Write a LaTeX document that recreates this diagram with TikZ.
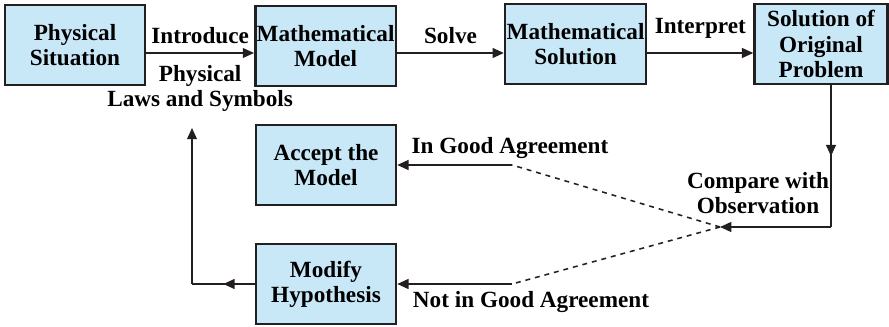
\documentclass[tikz,border=0pt]{standalone}
\usepackage{fontspec}
\setmainfont{Liberation Serif}[BoldFont={Liberation Serif Bold}]
\usepackage{tikz}
\usetikzlibrary{arrows.meta, positioning, decorations.markings}
\usepackage{xcolor}
\definecolor{boxblue}{RGB}{200,232,248}
\definecolor{inkgray}{RGB}{35,31,32}

\begin{document}
\begin{tikzpicture}[font=\rmfamily\bfseries\fontsize{16.5}{18}\selectfont,
    blk/.style={draw=inkgray, line width=1.8pt, fill=boxblue, minimum width=3.5cm, minimum height=2.0cm, align=center, inner sep=1pt},
    lbl/.style={align=center, inner sep=1pt},
    arr/.style={draw=inkgray, line width=1.2pt, -{Triangle[length=8pt, width=7pt]}},
    midarr/.style={draw=inkgray, line width=1.2pt, postaction={decorate},
      decoration={markings, mark=at position 0.5 with {\arrow{Triangle[length=8pt, width=7pt]}}}},
    dsh/.style={draw=inkgray, line width=1.1pt, dash pattern=on 3.5pt off 3.5pt}]
    \useasboundingbox (0,0) rectangle (22.225,-8.175);
    % top row
    \node[blk] (phys) at (1.875,-1.125)  {Physical\\Situation};
    \node[blk] (model) at (8.14,-1.15)   {Mathematical\\Model};
    \node[blk, minimum width=3.525cm] (msol) at (14.39,-1.1) {Mathematical\\Solution};
    \node[blk, minimum width=3.325cm] (orig) at (20.525,-1.1) {Solution of\\Original\\Problem};
    % bottom boxes
    \node[blk] (accept) at (8.15,-4.125) {Accept the\\Model};
    \node[blk] (modify) at (8.15,-7.1)   {Modify\\Hypothesis};
    % free ends
    \coordinate (cmp)  at (18.0,-5.675);
    \coordinate (turn) at (20.775,-5.675);
    \coordinate (good) at (12.8,-4.125);
    \coordinate (bad)  at (12.8,-7.1);
    \coordinate (back) at (4.8,-7.1);
    \coordinate (up)   at (4.8,-3.2);
    \draw[arr] ([yshift=-0.2cm]phys.east) -- node[lbl, above=5pt] (intro) {Introduce}
      node[lbl, below=7pt] (laws) {Physical\\Laws and Symbols} ([yshift=-0.175cm]model.west);
    \draw[arr] ([yshift=-0.175cm]model.east) -- node[lbl, above=5pt] (solve) {Solve} ([yshift=-0.225cm]msol.west);
    \draw[arr] ([yshift=-0.225cm]msol.east) -- node[lbl, above=9pt] (interp) {Interpret} ([yshift=-0.225cm]orig.west);
    \draw[midarr] ([xshift=0.25cm]orig.south) -- (turn);
    \draw[arr] (turn) -- (cmp);
    \node[lbl] (comp) at (18.95,-4.83) {Compare with\\Observation};
    % agreement branches
    \draw[dsh] (cmp) -- (good);
    \draw[dsh] (cmp) -- (bad);
    \draw[arr] (good) -- (accept);
    \draw[arr] (bad) -- (modify);
    \node[lbl] (yes) at (12.75,-3.7) {In Good Agreement};
    \node[lbl] (no)  at (13.275,-7.55) {Not in Good Agreement};
    % back to the model
    \draw[midarr] (modify) -- (back);
    \draw[arr] (back) -- (up);
  \end{tikzpicture}
\end{document}
